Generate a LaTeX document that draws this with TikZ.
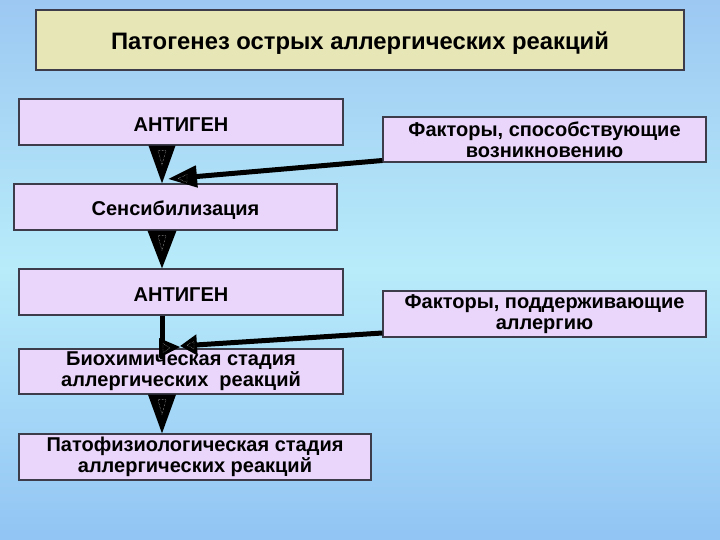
\documentclass[tikz,border=0pt]{standalone}
\usepackage{fontspec}
\setmainfont{Liberation Sans}
\usetikzlibrary{arrows.meta,calc}
\definecolor{boxfill}{RGB}{234,214,250}
\definecolor{titlefill}{RGB}{230,230,182}
\definecolor{boxline}{RGB}{60,60,75}
\definecolor{bgtop}{RGB}{156,200,242}
\definecolor{bgmid}{RGB}{184,236,250}
\definecolor{bgbot}{RGB}{146,196,244}
\newcommand{\lowtext}[2]{\raisebox{-#1}[0pt][0pt]{#2}}
\tikzset{
  box/.style={draw=boxline, line width=1.3pt, fill=boxfill, rectangle, align=center,
    inner sep=0pt, minimum width=324pt, minimum height=46pt,
    font=\fontsize{20}{21}\selectfont\bfseries},
  titlebox/.style={box, fill=titlefill, minimum width=648pt, minimum height=60pt,
    font=\fontsize{23.8}{25}\selectfont\bfseries},
  bigtri/.style={fill=black},
  feed/.style={line width=5pt, draw=black},
  inner/.style={draw=white!85!black, densely dotted, line width=0.4pt},
}
\begin{document}
\begin{tikzpicture}[x=1pt,y=-1pt]
\useasboundingbox (0,0) rectangle (720,540);
\shade[top color=bgtop, bottom color=bgbot, middle color=bgmid] (0,0) rectangle (720,540);

\node[titlebox] (title) at (360,40) {\lowtext{10pt}{Патогенез острых аллергических реакций}};
\node[box] (ag1) at (181,122) {\lowtext{9.3pt}{АНТИГЕН}};
\node[box, minimum width=323pt, minimum height=45pt] (f1) at (544.5,139.5) {Факторы, способствующие\\возникновению};
\node[box, minimum width=323pt] (sens) at (175.5,207) {\lowtext{8.8pt}{Сенсибилизация}};
\node[box] (ag2) at (181,292) {\lowtext{9.3pt}{АНТИГЕН}};
\node[box, minimum width=323pt] (f2) at (544.5,314) {Факторы, поддерживающие\\аллергию};
\node[box, minimum height=45pt] (bio) at (181,371.5) {Биохимическая стадия\\аллергических\ \ реакций};
\node[box, minimum width=352pt] (path) at (195,457) {Патофизиологическая стадия\\аллергических реакций};

\coordinate (ax) at (162,0);

% big downward triangles
\fill[bigtri] ($(ax |- ag1.south)+(-13.5,0)$) -- ($(ax |- ag1.south)+(13.5,0)$) -- (ax |- sens.north) -- cycle;
\fill[bigtri] ($(ax |- sens.south)+(-14.5,0)$) -- ($(ax |- sens.south)+(14.5,0)$) -- (ax |- ag2.north) -- cycle;
\fill[bigtri] ($(ax |- bio.south)+(-14,0)$) -- ($(ax |- bio.south)+(14,0)$) -- (ax |- path.north) -- cycle;
\draw[inner] ($(ax |- ag1.south)+(-4,5)$) -- ++(8,0) -- ++(-4,14) -- cycle;
\draw[inner] ($(ax |- sens.south)+(-4,5)$) -- ++(8,0) -- ++(-4,15) -- cycle;
\draw[inner] ($(ax |- bio.south)+(-4,5)$) -- ++(8,0) -- ++(-4,15) -- cycle;

% feeder arrow 1
\coordinate (f1end) at ($(f1.west)+(0,21)$);
\coordinate (tip1) at (168,179);
\draw[feed, -{Triangle[length=29pt,width=21pt]}] (f1end) -- (tip1);
\draw[inner] (178,178.5) -- (187,174.5) -- (187,182.5) -- cycle;

% vertical connector antigen 2 -> bio
\draw[feed, shorten >=-11pt] (ax |- ag2.south) -- (ax |- bio.north);
\fill[bigtri] (159,338) -- (159,358) -- (180,347) -- cycle;
\draw[inner] (163,343.5) -- (163,352.5) -- (170,348) -- cycle;

% feeder arrow 2
\coordinate (f2end) at ($(f2.west)+(0,19)$);
\coordinate (tip2) at (180,346);
\draw[feed, -{Triangle[length=17pt,width=20pt]}] (f2end) -- (tip2);
\draw[inner] (187,345) -- (194,341.5) -- (194,349) -- cycle;
\end{tikzpicture}
\end{document}
